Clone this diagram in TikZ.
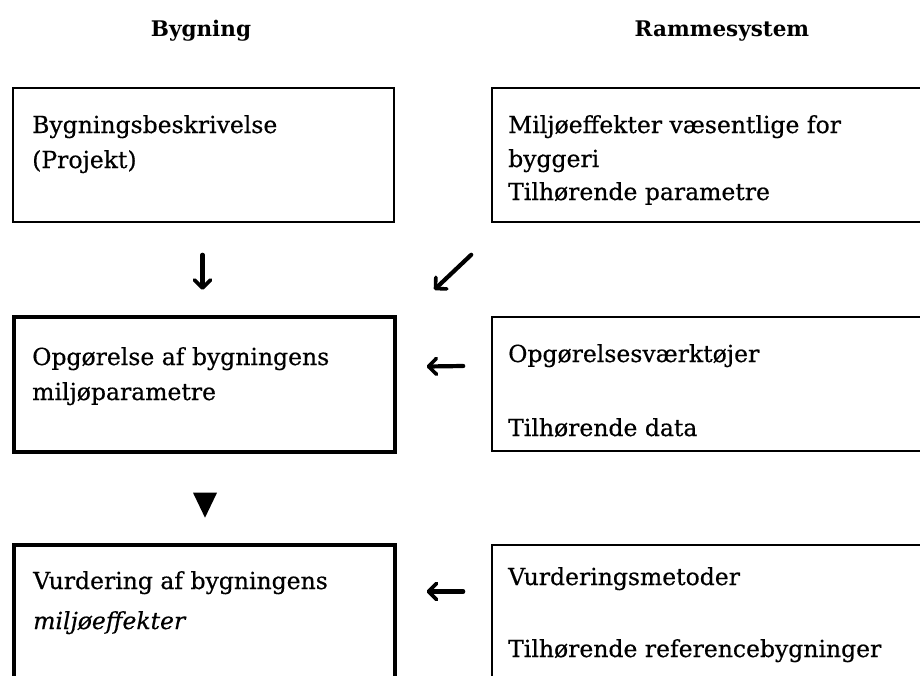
\documentclass[tikz,border=0pt]{standalone}
\usepackage{fontspec}
\setmainfont{DejaVu Serif}
\usetikzlibrary{arrows.meta,calc}
\tikzset{
  thinbox/.style={draw, line width=1.6pt, rectangle, inner sep=0pt},
  thickbox/.style={draw, line width=3.4pt, rectangle, inner sep=0pt},
  txt/.style={anchor=base west, inner sep=0pt, font=\fontsize{23.5}{28}\selectfont\addfontfeature{FakeBold=0.5}},
  hdr/.style={anchor=base, inner sep=0pt, font=\fontsize{21.5}{24}\selectfont\bfseries},
  arr/.style={line width=4.2pt, line cap=round, -{Straight Barb[length=8pt,width=16pt,line width=3.6pt,round]}}
}
\begin{document}
\begin{tikzpicture}[x=1pt,y=-1pt]
\useasboundingbox (0,0) rectangle (920,675);
\clip (0,0) rectangle (920,675);
% headers
\node[hdr] (h1) at (201,36) {Bygning};
\node[hdr] (h2) at (722,36) {Rammesystem};
% boxes
\node[thinbox, minimum width=381, minimum height=134] (b1) at (203.5,155) {};
\node[thinbox, minimum width=468, minimum height=134] (r1) at (726,155) {};
\node[thickbox, minimum width=381, minimum height=135] (b2) at (204.5,384.5) {};
\node[thinbox, minimum width=468, minimum height=134] (r2) at (726,384) {};
\node[thickbox, minimum width=381, minimum height=175] (b3) at (204.5,632.5) {};
\node[thinbox, minimum width=468, minimum height=175] (r3) at (726,632.5) {};
% texts
\node[txt] (t1a) at (32,133) {Bygningsbeskrivelse};
\node[txt] (t1b) at (32,168) {(Projekt)};
\node[txt] (u1a) at (508,133) {Miljøeffekter væsentlige for};
\node[txt] (u1b) at (508,167) {byggeri};
\node[txt] (u1c) at (508,200) {Tilhørende parametre};
\node[txt] (t2a) at (32,365) {Opgørelse af bygningens};
\node[txt] (t2b) at (32,400) {miljøparametre};
\node[txt] (u2a) at (508,362) {Opgørelsesværktøjer};
\node[txt] (u2b) at (508,436) {Tilhørende data};
\node[txt] (t3a) at (33,589) {Vurdering af bygningens};
\node[txt, font=\fontsize{23.5}{28}\selectfont\itshape\addfontfeature{FakeBold=0.5}] (t3b) at (33,629) {miljøeffekter};
\node[txt] (u3a) at (508,585) {Vurderingsmetoder};
\node[txt] (u3b) at (508,657) {Tilhørende referencebygninger};
% arrows
\draw[arr] ($(b1.south)+(-1,32)$) -- ($(b1.south)+(-1,67)$);
\draw[arr] ($(r1.south west)+(-20,32)$) -- ($(r1.south west)+(-57,67)$);
\draw[arr] ($(r2.west)+(-28,-18)$) -- ($(b2.east)+(30,-18)$);
\draw[arr] ($(r3.west)+(-28,-41)$) -- ($(b3.east)+(30,-41)$);
% filled triangle
\coordinate (tri) at ($(b2.south)+(0.5,39)$);
\fill ($(tri)+(-12,0)$) -- ($(tri)+(12,0)$) -- ($(tri)+(0,25)$) -- cycle;
\end{tikzpicture}
\end{document}
